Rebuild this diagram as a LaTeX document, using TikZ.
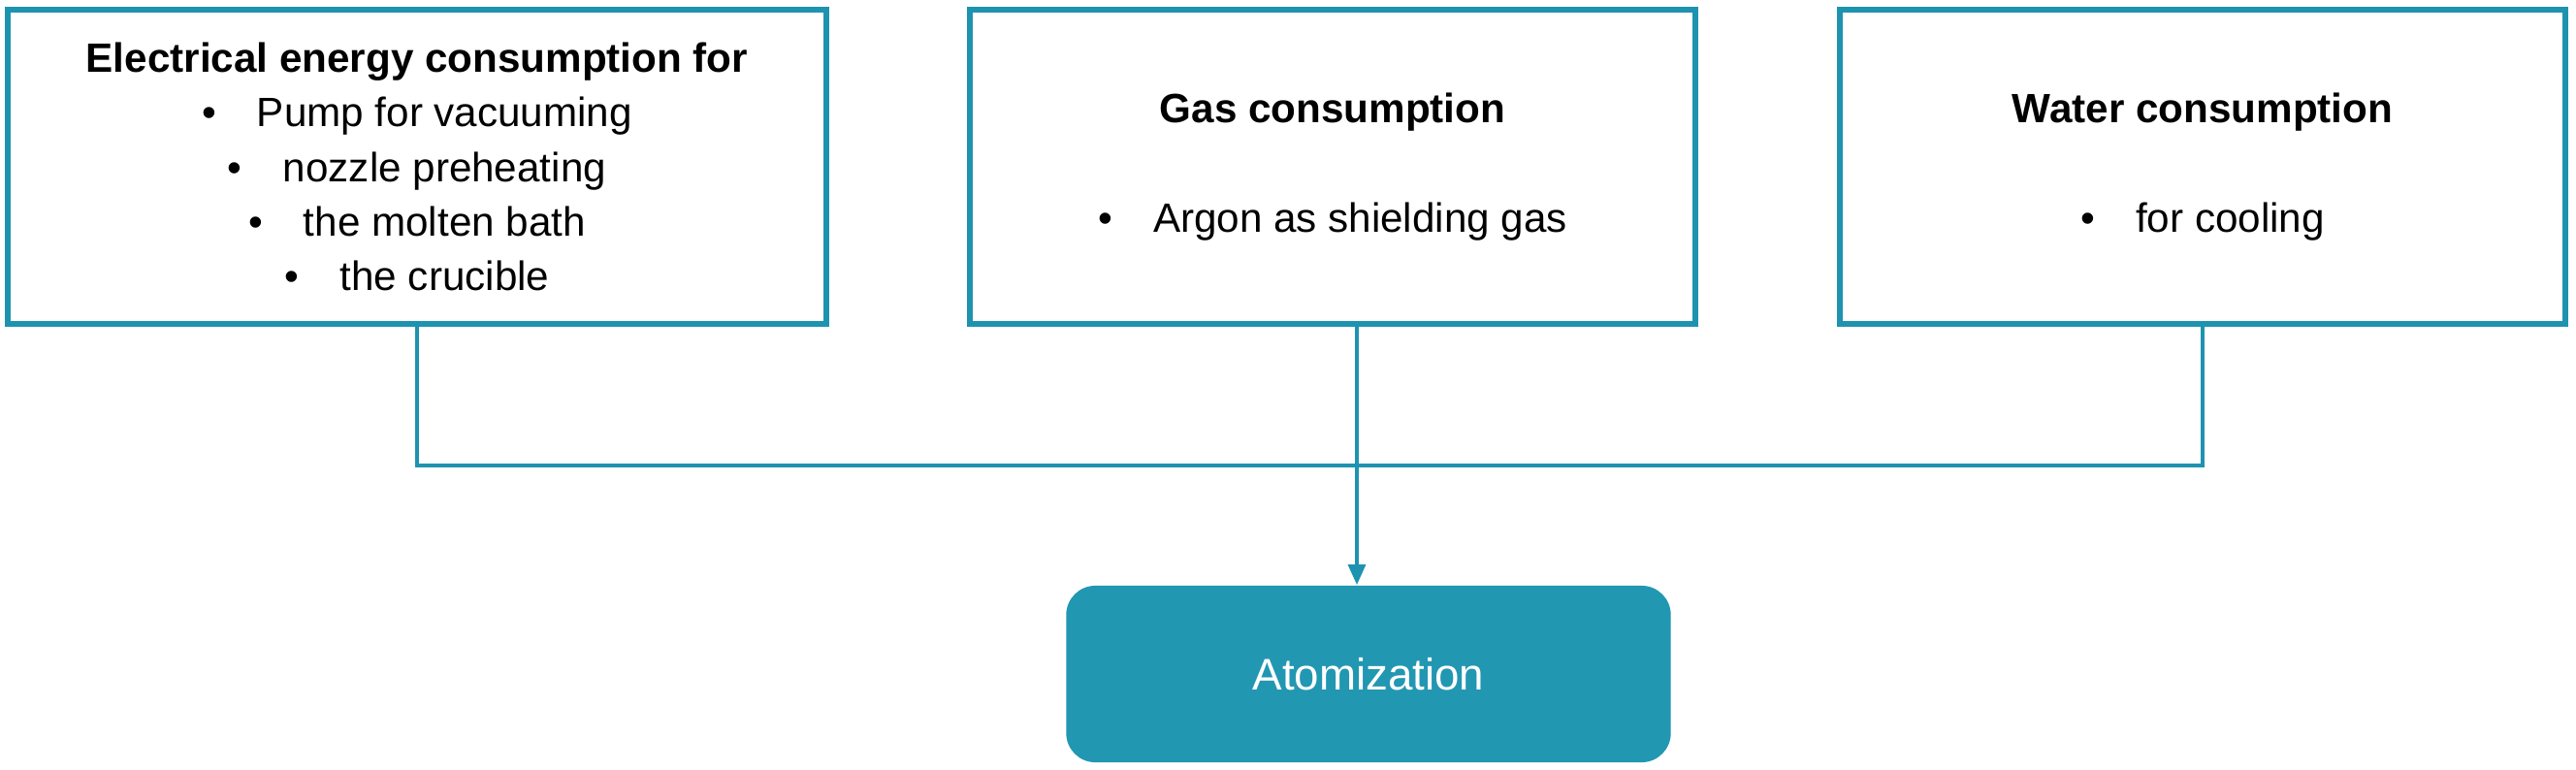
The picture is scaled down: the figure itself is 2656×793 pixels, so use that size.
\documentclass[tikz,border=0pt]{standalone}
\usepackage{fontspec}
\setmainfont{Liberation Sans}
\usetikzlibrary{arrows.meta}
\definecolor{teal1}{HTML}{1E93B0}
\definecolor{tealfill}{HTML}{2297B2}
\tikzset{
  srcbox/.style = {draw = teal1, line width = 1.8pt, minimum height = 3.24cm, align = center,
                   font = \fontsize{12}{16}\selectfont},
  conn/.style = {draw = teal1, line width = 1.2pt},
  atombox/.style = {fill = tealfill, rounded corners = 0.3cm, minimum width = 6.23cm,
                    minimum height = 1.82cm, text = white, font = \fontsize{13}{16}\selectfont}
}
\begin{document}
\begin{tikzpicture}[x = 0.01cm, y = 0.01cm, >={Triangle[length=6pt, width=5pt]}]
    \useasboundingbox (0,0) rectangle (2656,-793);
    \node[srcbox, minimum width = 8.44cm](elec) at (430,-172)
        {\textbf{Electrical energy consumption for}\\
         \textbullet\quad Pump for vacuuming\\
         \textbullet\quad nozzle preheating\\
         \textbullet\quad the molten bath\\
         \textbullet\quad the crucible};
    \node[srcbox, minimum width = 7.48cm](gas) at (1374,-172)
        {\textbf{Gas consumption}\\[16pt] \textbullet\quad Argon as shielding gas};
    \node[srcbox, minimum width = 7.47cm](water) at (2271,-172)
        {\textbf{Water consumption}\\[16pt] \textbullet\quad for cooling};
    \node[atombox](atom) at (1411,-695) {Atomization};
    \coordinate (J) at (1399,-480);
    \draw[conn] (elec.south) |- (J) -| (water.south);
    \draw[conn, ->, teal1] (gas.south -| J) -- (atom.north -| J);
\end{tikzpicture}
\end{document}
